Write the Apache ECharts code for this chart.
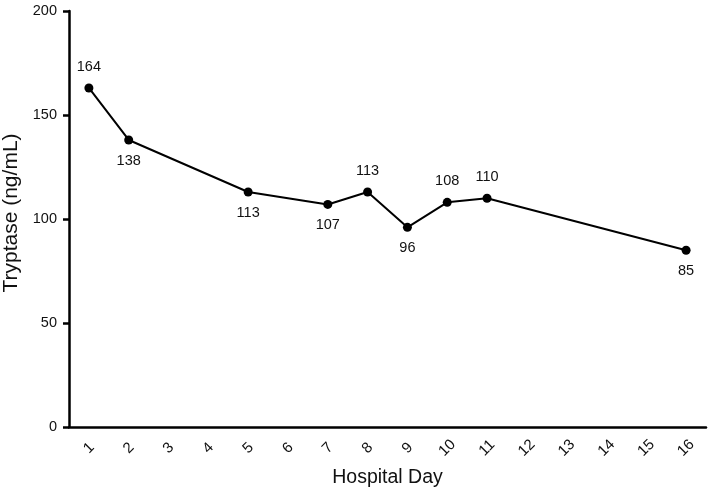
<!DOCTYPE html>
<html>
<head>
<meta charset="utf-8">
<script src="https://cdn.jsdelivr.net/npm/echarts@6/dist/echarts.min.js"></script>
<style>
html,body{margin:0;padding:0;background:#fff;}
#chart{width:709px;height:489px;}
</style>
</head>
<body>
<div id="chart"></div>
<script>
const dayCategories = ['1','2','3','4','5','6','7','8','9','10','11','12','13','14','15','16'];
const measuredDays = ['1','2','5','7','8','9','10','11','16'];
const tryptaseValues = [163, 138, 113, 107, 113, 96, 108, 110, 85];
const valueLabels = ['164','138','113','107','113','96','108','110','85'];
const labelSides = ['top','bottom','bottom','bottom','top','bottom','top','top','bottom'];
const yTicks = [0, 50, 100, 150, 200];

const chart = echarts.init(document.getElementById('chart'), null, {renderer: 'canvas'});
const font = 'Liberation Sans, Arial, sans-serif';
const seriesData = measuredDays.map((d, i) => ({
  value: [d, tryptaseValues[i]],
  label: {position: labelSides[i], formatter: valueLabels[i]}
}));

chart.setOption({
  animation: false,
  backgroundColor: '#ffffff',
  grid: {left: 69, right: 3, top: 11, bottom: 62, containLabel: false, outerBoundsMode: 'none'},
  xAxis: {
    type: 'category',
    data: dayCategories,
    boundaryGap: true,
    name: 'Hospital Day',
    nameLocation: 'middle',
    nameGap: 41,
    nameTextStyle: {fontSize: 19.5, color: '#111', fontFamily: font},
    axisLine: {lineStyle: {color: '#000', width: 2.5}},
    axisTick: {alignWithLabel: true, length: 6, lineStyle: {color: '#000', width: 2.5}},
    axisLabel: {rotate: 45, align: 'center', verticalAlign: 'middle', margin: 21, fontSize: 15, color: '#111', fontFamily: font, interval: 0},
    splitLine: {show: false}
  },
  yAxis: {
    type: 'value',
    min: yTicks[0],
    max: yTicks[yTicks.length - 1],
    interval: 50,
    name: 'Tryptase (ng/mL)',
    nameLocation: 'middle',
    nameGap: 46,
    nameTextStyle: {fontSize: 21, color: '#111', fontFamily: font, padding: [0, 0, 0, 12]},
    axisLine: {show: true, lineStyle: {color: '#000', width: 2.5}},
    axisTick: {show: true, length: 6, lineStyle: {color: '#000', width: 2.5}},
    axisLabel: {margin: 12, fontSize: 14.5, color: '#111', fontFamily: font},
    splitLine: {show: false}
  },
  series: [{
    type: 'line',
    data: seriesData,
    connectNulls: true,
    symbol: 'circle',
    symbolSize: 9,
    itemStyle: {color: '#000'},
    lineStyle: {color: '#000', width: 2},
    label: {show: true, distance: 9, fontSize: 14.5, color: '#111', fontFamily: font}
  }]
});
</script>
</body>
</html>
